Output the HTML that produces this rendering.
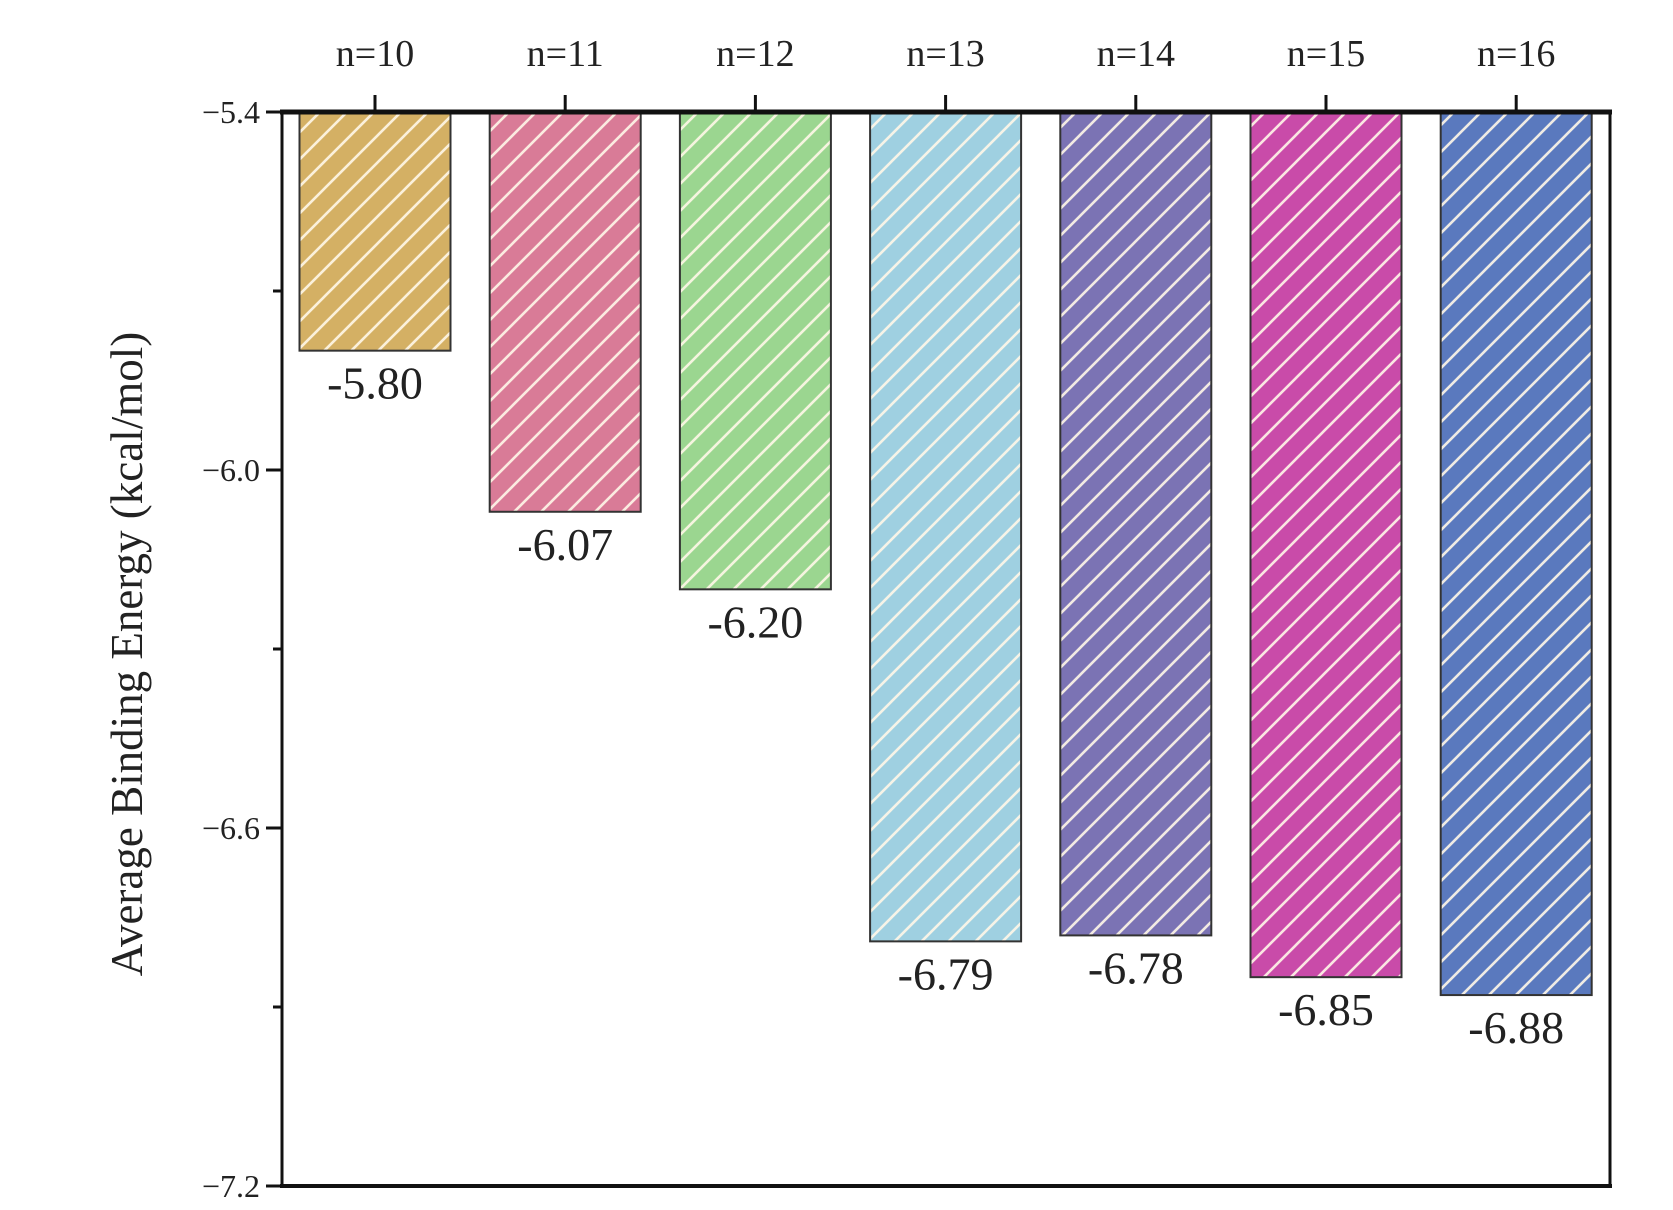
<!DOCTYPE html>
<html><head><meta charset="utf-8"><style>body{margin:0;background:#fff}svg{display:block}text{font-family:"Liberation Serif",serif;fill:#222}</style></head>
<body>
<svg id="chart" width="1673" height="1210" xmlns="http://www.w3.org/2000/svg">
<defs>
<pattern id="hatch" patternUnits="userSpaceOnUse" width="27" height="27">
<path d="M-3,30 L30,-3 M-3,3 L3,-3 M24,30 L30,24" stroke="#fff8e8" stroke-width="2.6" opacity="0.9"/>
</pattern>
</defs>
<g id="bars"></g>
<g id="axes"></g>
<text transform="translate(142,654) rotate(-90)" text-anchor="middle" font-size="45">Average Binding Energy (kcal/mol)</text>
</svg>
<script>
const categories=["n=10","n=11","n=12","n=13","n=14","n=15","n=16"];
const values=[-5.80,-6.07,-6.20,-6.79,-6.78,-6.85,-6.88];
const valueLabels=["-5.80","-6.07","-6.20","-6.79","-6.78","-6.85","-6.88"];
const colors=["#d4b064","#d97b97","#9bd690","#9fd0e1","#7b73b4","#c94ba9","#5a79be"];
const yTicks=[-5.4,-6.0,-6.6,-7.2];
const yTickLabels=["\u22125.4","\u22126.0","\u22126.6","\u22127.2"];
const yMinor=[-5.7,-6.3,-6.9];
const L=282,R=1610,T=112,B=1186,yMax=-5.4,yMin=-7.2;
const NS="http://www.w3.org/2000/svg";
const y=v=>T+(yMax-v)/(yMax-yMin)*(B-T);
const x0=375,step=190.2,bw=151;
const xc=i=>x0+i*step;
function mk(tag,attrs,parent,txt){const e=document.createElementNS(NS,tag);for(const k in attrs)e.setAttribute(k,attrs[k]);if(txt!==undefined)e.textContent=txt;parent.appendChild(e);return e;}
const gb=document.getElementById('bars'),ga=document.getElementById('axes');
values.forEach((v,i)=>{
 const g=mk('g',{},gb);
 
 
 const h=y(v)-y(yMax);
 mk('rect',{x:xc(i)-bw/2,y:y(yMax),width:bw,height:h,fill:colors[i]},g);
 mk('rect',{x:xc(i)-bw/2,y:y(yMax),width:bw,height:h,fill:'url(#hatch)',stroke:'#333','stroke-width':2},g);
 const t=mk('text',{x:xc(i),y:y(v)+48,'text-anchor':'middle','font-size':'46'},gb,valueLabels[i]);
 
 
 const c=mk('text',{x:xc(i),y:66,'text-anchor':'middle','font-size':'38'},ga,categories[i]);
 
 
 mk('line',{x1:xc(i),x2:xc(i),y1:T,y2:T-17,stroke:'#111','stroke-width':3},ga);
});
const fr=mk('rect',{x:L,y:T,width:R-L,height:B-T,fill:'none',stroke:'#111','stroke-width':3},ga);


mk('line',{x1:L-2,x2:R+2,y1:T,y2:T,stroke:'#111','stroke-width':5},ga);
mk('line',{x1:L-2,x2:R+2,y1:B,y2:B,stroke:'#111','stroke-width':4},ga);
yTicks.forEach((v,i)=>{
 mk('line',{x1:L,x2:L-16,y1:y(v),y2:y(v),stroke:'#111','stroke-width':3},ga);
 const t=mk('text',{x:L-22,y:y(v)+11,'text-anchor':'end','font-size':'32'},ga,yTickLabels[i]);
 
 
});
yMinor.forEach(v=>mk('line',{x1:L,x2:L-9,y1:y(v),y2:y(v),stroke:'#111','stroke-width':3},ga));
</script>
</body></html>
